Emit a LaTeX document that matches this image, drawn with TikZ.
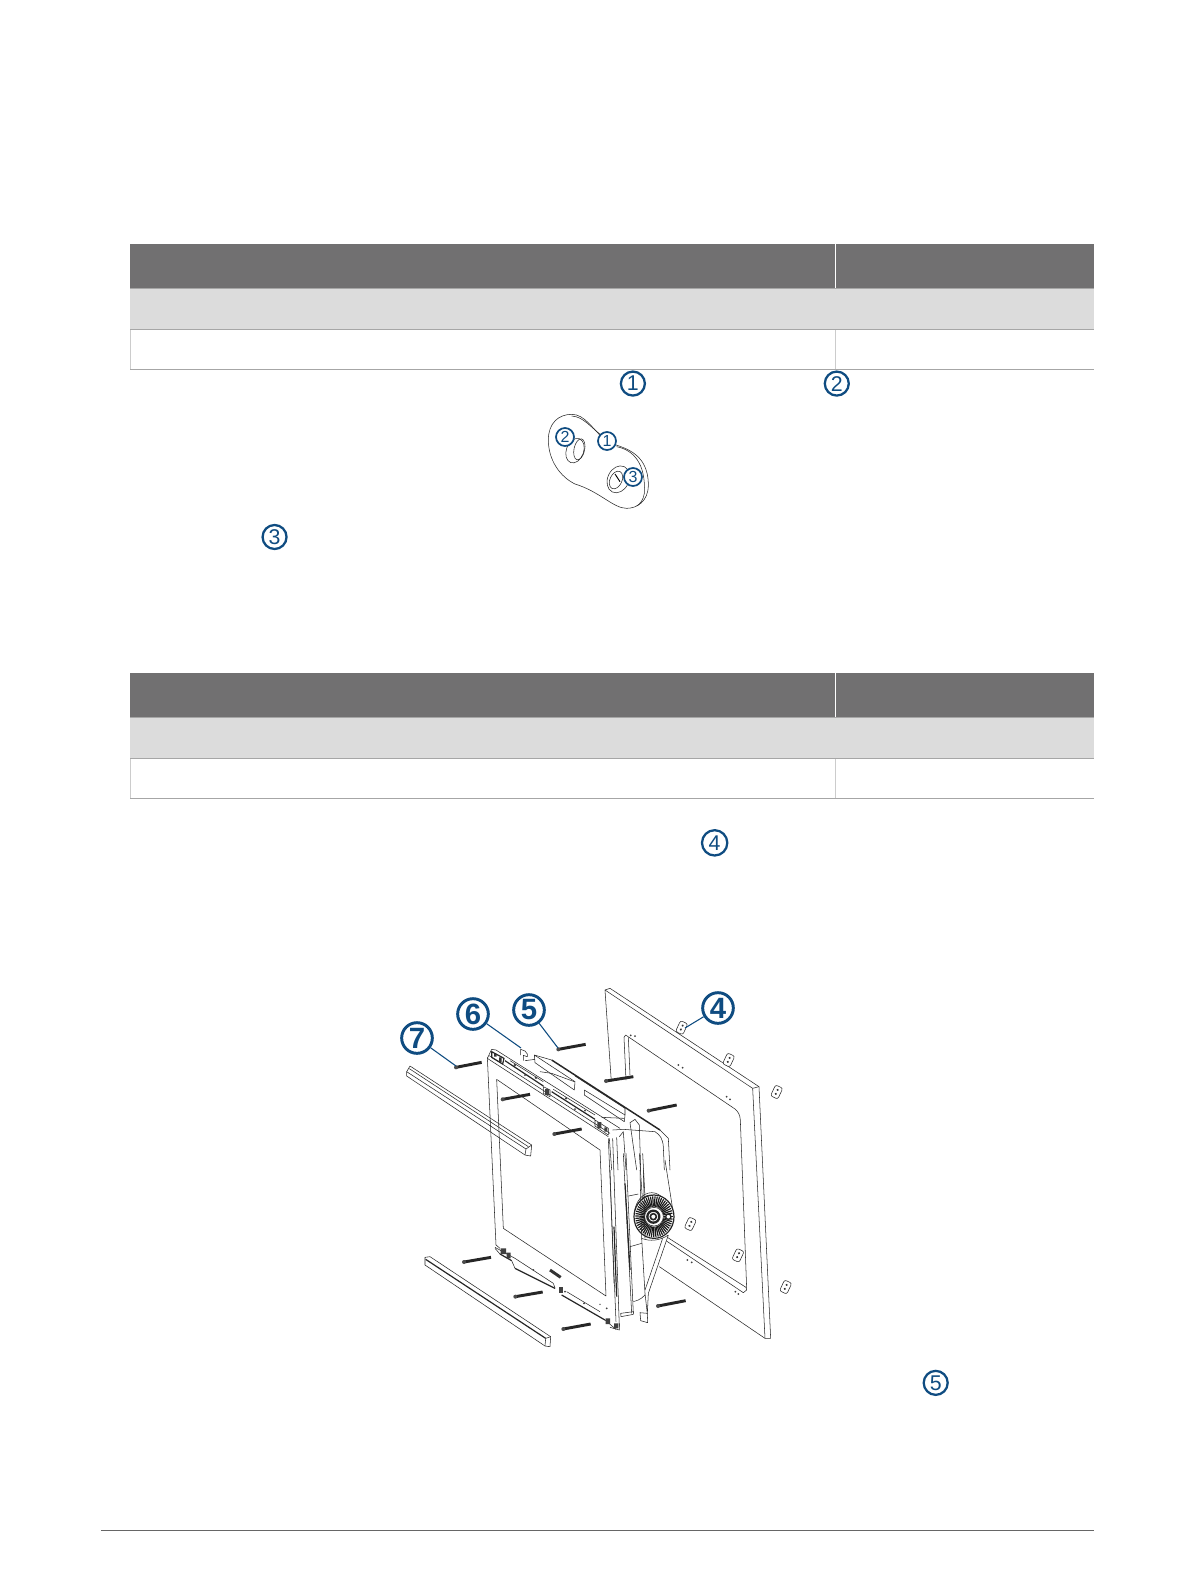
\documentclass[tikz,border=0pt]{standalone}
\usepackage{fontspec}
\setmainfont{Liberation Sans}
\definecolor{callblue}{HTML}{0F4C81}
\definecolor{headgray}{HTML}{717071}
\definecolor{rowgray}{HTML}{DCDCDC}
\definecolor{rulegray}{HTML}{A6A6A6}
\tikzset{
 calla/.style={draw=callblue,line width=1.7pt,circle,inner sep=0pt,minimum size=18pt,text=callblue,font=\fontsize{16}{16}\selectfont},
 callb/.style={draw=callblue,line width=2.2pt,circle,fill=white,inner sep=0pt,minimum size=23pt,text=callblue,font=\fontsize{22}{22}\bfseries\selectfont},
 callc/.style={draw=callblue,line width=1.3pt,circle,fill=white,inner sep=0pt,minimum size=13.5pt,text=callblue,font=\fontsize{12}{12}\selectfont},
 leader/.style={draw=callblue,line width=0.8pt},
 part/.style={draw=black!85,line width=0.4pt,line join=round},
 partb/.style={draw=black!85,line width=0.9pt,line join=round},
 screwbody/.style={draw=black!85,line width=2.2pt},
 tline/.style={draw=rulegray,line width=0.8pt},
 tthin/.style={draw=black!20,line width=0.5pt},
 zoomA/.style={shift={(380,960)},scale=1/3},
 zoomB/.style={shift={(380,1150)},scale=1/3},
 zoomT/.style={shift={(480,1040)},scale=1/3},
 zoomK/.style={shift={(590,1170)},scale=1/3},
 zoomS/.style={shift={(490,1240)},scale=1/3},
 pagefit/.style={scale=1.00939},
}
\newcommand{\screwdraw}[4]{\draw[screwbody] (#1,#2) -- (#3,#4); \fill[black!70] (#1,#2) circle (6);}
\newcommand{\tablerows}[1]{%
 \fill[headgray] (129,#1) rectangle (1084,#1+44);
 \fill[rowgray] (129,#1+44) rectangle (1084,#1+84);
 \draw[white,line width=0.5pt] (828,#1) -- (828,#1+44);
 \draw[tthin] (828,#1+84) -- (828,#1+124);
 \draw[tthin] (129,#1+84) -- (129,#1+124);
 \draw[tline] (129,#1+44) -- (1084,#1+44);
 \draw[tline] (129,#1+84) -- (1084,#1+84);
 \draw[tline] (129,#1+124) -- (1084,#1+124);
}
\newcommand{\nutdraw}[2]{%
 \begin{scope}[shift={(#1,#2)},rotate=65]
 \draw[part,fill=white,rounded corners=1.6pt] (-18,-12) rectangle (18,12);
 \fill[black!80] (-6,0) circle (3.5) (7,0) circle (3.5);
 \end{scope}}
\newcommand{\dotpair}[4]{\fill[black!75] (#1,#2) circle (3) (#3,#4) circle (3);}
\begin{document}
\begin{tikzpicture}[x=0.75pt,y=-0.75pt]
\useasboundingbox[fill=white] (0,0) rectangle (1196,1582);
\begin{scope}[pagefit]
\tablerows{242}
\tablerows{667}
\draw[black!60,line width=0.8pt] (100,1516) -- (1084,1516);
\node[calla] (c1) at (627,380) {1};
\node[calla] (c2) at (829,380) {2};
\node[calla] (c3) at (272,532) {3};
\node[calla,minimum size=19pt] (c4) at (708,835) {4};
\node[calla] (c5) at (927,1370) {5};
\end{scope}

% mounting plate
\begin{scope}[shift={(520,360)},scale=1/3]
\draw[part] (85,240) .. controls (85,190) and (115,163) .. (155,163)
 .. controls (195,163) and (215,205) .. (260,245)
 .. controls (300,262) and (385,270) .. (385,375)
 .. controls (385,425) and (350,445) .. (320,445)
 .. controls (280,445) and (240,395) .. (165,372)
 .. controls (120,350) and (85,300) .. (85,240) -- cycle;
\draw[part] (155,168) .. controls (190,170) and (210,200) .. (255,235);
\draw[part] (290,260) .. controls (340,270) and (378,310) .. (373,400) .. controls (370,420) and (360,432) .. (350,438);
\draw[part] (165,272) ellipse [x radius=26,y radius=38,rotate=-20];
\draw[part] (178,268) ellipse [x radius=16,y radius=32,rotate=-12];
\draw[part] (295,358) ellipse [x radius=32,y radius=42,rotate=-25];
\draw[part] (288,360) ellipse [x radius=18,y radius=28,rotate=-25];
\draw[black,line width=0.7pt] (285,342) -- (300,365);
\end{scope}
\node[callc] (s2) at (565,437) {2};
\node[callc] (s1) at (607,441) {1};
\node[callc] (s3) at (633,477) {3};

% rear panel
\begin{scope}[zoomA]
\draw[part] (690,85) -- (1137,380);
\draw[part] (675,90) -- (1118,385);
\draw[part] (675,90) -- (690,85);
\draw[part] (675,90) -- (694,365);
\draw[part] (1137,380) -- (1118,385);
\draw[part] (1137,380) -- (1172,1135);
\draw[part] (1118,385) -- (1155,1135);
\draw[part] (732,232) -- (737,225) -- (1065,447) .. controls (1075,455) and (1080,465) .. (1081,480) -- (1100,985);
\draw[part] (732,232) -- (738,360);
\draw[part] (745,232) -- (750,345);
\draw[part] (838,920) -- (1155,1135) -- (1172,1135);
\draw[part] (862,832) -- (1098,982) -- (1100,990) -- (1090,998) -- (855,840);
\nutdraw{905}{203}\nutdraw{1046}{300}\nutdraw{1190}{396}
\nutdraw{931}{792}\nutdraw{1074}{886}\nutdraw{1217}{981}
\dotpair{752}{226}{765}{228}\dotpair{895}{315}{908}{323}\dotpair{1040}{410}{1050}{418}
\dotpair{922}{900}{935}{907}\dotpair{1066}{995}{1075}{1002}
% top trim
\draw[part] (80,335) -- (90,318) -- (455,555) -- (452,588) -- (435,585) -- (80,348) -- cycle;
\draw[part] (80,335) -- (438,567) -- (435,585);
\draw[part] (88,326) -- (445,560);
\draw[part] (438,567) -- (455,555);
\end{scope}

\begin{scope}[zoomB]
% bottom trim
\draw[part] (135,322) -- (150,320) -- (512,560) -- (510,590) -- (495,588) -- (135,345) -- cycle;
\draw[partb] (137,328) -- (497,565);
\draw[part] (497,565) -- (495,588) (497,565) -- (512,560);
% display front outline
\draw[part] (322,-278) -- (348,285);
\draw[part] (350,-212) -- (370,235);
\draw[part] (350,-212) -- (660,0) -- (678,438) -- (370,235);
\draw[part] (348,285) -- (360,295);
\end{scope}

% top strip of the display
\begin{scope}[zoomT]
\draw[part] (35,28) -- (48,30) -- (420,265);
\draw[part] (35,28) -- (22,55);
\draw[part] (22,55) -- (385,290);
\draw[part] (28,47) -- (390,280);
\draw[partb] (75,62) -- (190,138);
\draw[partb] (215,155) -- (345,238);
\draw[part] (90,62) -- (190,125);
\draw[part] (220,148) -- (345,225);
\draw[partb] (35,35) -- (35,52) -- (68,72) -- (72,55) -- cycle;
\fill[black!80] (42,42) rectangle (50,50) (57,52) rectangle (65,66);
\draw[part] (190,140) -- (210,150) -- (210,170) -- (190,160) -- cycle;
\fill[black!75] (195,146) rectangle (208,165);
\draw[part] (345,240) -- (385,265) -- (385,285) -- (345,258) -- cycle;
\fill[black!75] (352,246) rectangle (364,265) (373,262) rectangle (382,275);
\fill[black!75] (135,105) circle (3) (285,207) circle (3) (168,113) circle (4) (258,175) circle (4) (315,212) circle (3) (105,75) circle (4);
% tab 6
\draw[part] (122,45) -- (122,28) -- (135,33) -- (142,42) -- (142,50) -- (130,46) -- (130,62);
% middle layers
\draw[part] (163,45) -- (285,125) -- (283,150) -- (165,68) -- cycle;
\draw[part] (163,45) -- (215,60);
\draw[draw=black!85,line width=1.1pt] (215,60) -- (540,270);
\draw[part] (135,62) -- (165,58);
\draw[part] (180,95) -- (215,100) -- (283,125);
\draw[part] (313,150) -- (435,225) -- (433,245) -- (313,165) -- cycle;
\draw[part] (285,108) -- (435,205) -- (435,225);
\draw[part] (365,232) -- (433,235);
\draw[part] (540,270) -- (565,295) -- (570,390);
\draw[part] (398,270) -- (430,268) -- (525,275) .. controls (540,285) and (548,295) .. (550,320) -- (553,390);
% hinge tab
\draw[part] (450,248) -- (465,238) -- (478,255) -- (482,390);
\draw[part] (450,248) -- (470,390);
\draw[part] (418,290) -- (430,275) -- (438,390);
\draw[part] (388,295) -- (395,390);
\draw[part] (410,292) -- (414,390);
\end{scope}

% side layers and knob
\begin{scope}[zoomK]
\draw[part] (55,-95) -- (78,455);
\draw[part] (68,-95) -- (88,470);
\draw[part] (60,0) -- (72,340);
\draw[partb] (72,170) -- (80,380);
\draw[part] (100,-50) -- (125,430);
\draw[part] (108,-50) -- (130,430);
\draw[partb] (105,40) -- (120,300);
\draw[part] (92,430) -- (130,425) -- (130,433) -- (93,440) -- cycle;
\draw[part] (115,78) -- (145,72);
\draw[part] (120,230) -- (190,210);
\draw[part] (130,395) .. controls (150,390) and (165,380) .. (170,365);
\draw[part] (225,-30) -- (250,130);
\draw[part] (148,-50) -- (158,100);
\draw[part] (158,-50) -- (166,100);
% disc behind
\draw[part] (185,135) ellipse [x radius=52,y radius=67];
\draw[part] (182,137) ellipse [x radius=46,y radius=62];
% knob
\fill[white] (192,140) ellipse [x radius=60,y radius=65];
\draw[partb] (192,140) ellipse [x radius=60,y radius=65];
\foreach \a in {0,7,...,353}{\draw[black!90,line width=0.9pt] ({192+28*cos(\a)},{140+30*sin(\a)}) -- ({192+56*cos(\a)},{140+61*sin(\a)});}
\draw[part,fill=white] (192,140) circle (28);
\draw[draw=black!85,line width=1.7pt] (190,140) circle (18);
\draw[draw=black!85,line width=1.2pt] (190,140) circle (9);
\draw[draw=black!85,line width=1pt,fill=white] (235,140) circle (8);
% yoke
\draw[part,fill=white] (235,195) -- (175,370) -- (172,432) -- (165,370) -- (155,205) .. controls (180,215) and (210,212) .. (235,195);
\draw[part] (218,205) -- (165,360);
\draw[part] (155,205) -- (150,0);
\draw[part] (165,205) -- (160,0);
\draw[part,fill=white] (150,428) -- (172,430) -- (173,458) -- (152,452) -- cycle;
\end{scope}

% bottom strip
\begin{scope}[zoomS]
\draw[part] (15,25) -- (30,42);
\draw[part] (15,22) -- (75,55);
\draw[partb] (30,42) -- (65,62);
\draw[partb] (75,85) -- (195,145);
\draw[partb] (215,165) -- (345,240);
\draw[part] (75,55) -- (190,130);
\draw[part] (230,155) -- (330,215);
\draw[part] (65,62) -- (75,85);
\draw[part] (190,130) -- (195,145);
\draw[part] (345,240) -- (378,268);
\fill[black!75] (32,25) rectangle (48,42) (50,38) rectangle (62,55);
\fill[black!75] (206,140) rectangle (220,160);
\fill[black!75] (225,155) circle (3) (130,90) circle (3) (282,190) circle (3) (330,193) circle (2) (350,205) circle (3);
\fill[black!75] (347,235) rectangle (360,252) (372,250) rectangle (385,265);
\draw[part] (388,250) -- (388,270) -- (360,262);
\draw[draw=black!80,line width=2.2pt] (180,90) -- (212,112);
\end{scope}

% screws
\begin{scope}[zoomA]
\screwdraw{535}{268}{617}{253}
\screwdraw{228}{322}{305}{307}
\screwdraw{678}{363}{760}{350}
\screwdraw{368}{418}{450}{403}
\screwdraw{806}{452}{890}{435}
\screwdraw{523}{522}{605}{507}
\end{scope}
\begin{scope}[zoomB]
\screwdraw{252}{336}{333}{322}
\screwdraw{406}{440}{488}{426}
\screwdraw{550}{537}{632}{522}
\screwdraw{834}{468}{917}{452}
\end{scope}

% callouts
\node[callb] (b4) at (718,1008) {4};
\node[callb] (b5) at (529,1010) {5};
\node[callb] (b6) at (473,1014) {6};
\node[callb] (b7) at (417,1038) {7};
\coordinate (t4) at (685,1028);
\coordinate (t5) at (558,1048);
\coordinate (t6) at (521,1048);
\coordinate (t7) at (456,1066);
\draw[leader] (b4) -- (t4);
\draw[leader] (b5) -- (t5);
\draw[leader] (b6) -- (t6);
\draw[leader] (b7) -- (t7);
\end{tikzpicture}
\end{document}
